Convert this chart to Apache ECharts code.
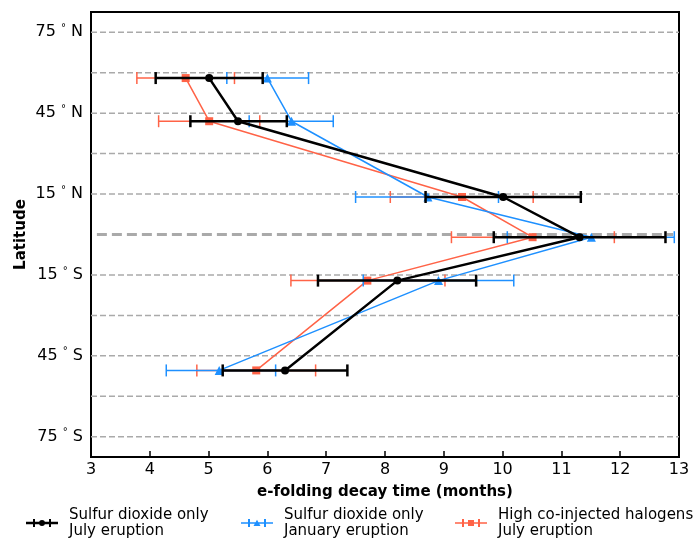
<!DOCTYPE html>
<html>
<head>
<meta charset="utf-8">
<script src="https://cdn.jsdelivr.net/npm/echarts@6/dist/echarts.min.js"></script>
<style>
  html, body { margin: 0; padding: 0; background: #fff; }
  #chart { width: 698px; height: 540px; }
</style>
</head>
<body>
<div id="chart"></div>
<script>
// latitude of each row of points
var latitudes = [58, 42, 13.9, -1, -17.1, -50.4];

// Sulfur dioxide only, July eruption
var so2July = [5.01, 5.50, 10.01, 11.31, 8.21, 6.30];
var so2JulyLow = [4.10, 4.69, 8.69, 9.85, 6.86, 5.24];
var so2JulyHigh = [5.92, 6.33, 11.33, 12.77, 9.55, 7.36];

// Sulfur dioxide only, January eruption
var so2Jan = [6.00, 6.41, 8.73, 11.51, 8.91, 5.18];
var so2JanLow = [5.31, 5.69, 7.50, 10.08, 7.63, 4.28];
var so2JanHigh = [6.70, 7.12, 9.93, 12.92, 10.19, 6.14];

// High co-injected halogens, July eruption
var halJuly = [4.61, 5.01, 9.31, 10.51, 7.70, 5.81];
var halJulyLow = [3.78, 4.15, 8.09, 9.13, 6.40, 4.80];
var halJulyHigh = [5.44, 5.87, 10.52, 11.90, 9.02, 6.82];

var latTicks = [75, 45, 15, -15, -45, -75];
var gridLats = [75, 60, 45, 30, 15, -15, -30, -45, -60, -75];

var names = [
    'Sulfur dioxide only\nJuly eruption',
    'Sulfur dioxide only\nJanuary eruption',
    'High co-injected halogens\nJuly eruption'
];

function pairs(xs) {
    return xs.map(function (x, i) { return [x, latitudes[i]]; });
}
function errData(lo, hi) {
    return lo.map(function (l, i) { return [l, hi[i], latitudes[i]]; });
}
function errRender(color, width) {
    return function (params, api) {
        var a = api.coord([api.value(0), api.value(2)]);
        var b = api.coord([api.value(1), api.value(2)]);
        var h = 6;
        var st = { stroke: color, lineWidth: width };
        return {
            type: 'group',
            children: [
                { type: 'line', shape: { x1: a[0], y1: a[1], x2: b[0], y2: b[1] }, style: st },
                { type: 'line', shape: { x1: a[0], y1: a[1] - h, x2: a[0], y2: a[1] + h }, style: st },
                { type: 'line', shape: { x1: b[0], y1: b[1] - h, x2: b[0], y2: b[1] + h }, style: st }
            ]
        };
    };
}

// legend glyphs: bar + caps + marker, box 32 x 8
function barIcon(t) {
    var y0 = 4 - t / 2, y1 = 4 + t / 2;
    return 'M0,' + y0 + ' L32,' + y0 + ' L32,' + y1 + ' L0,' + y1 + ' Z ' +
        'M7,0 L9,0 L9,8 L7,8 Z M23,0 L25,0 L25,8 L23,8 Z ';
}
var iconCircle = 'path://' + barIcon(2.4) + 'M16,1 A3,3 0 1,1 16,7 A3,3 0 1,1 16,1 Z';
var iconTri = 'path://' + barIcon(1.6) + 'M16,0.8 L19.5,7 L12.5,7 Z';
var iconSq = 'path://' + barIcon(1.6) + 'M13,1 L19,1 L19,7 L13,7 Z';

function legendAt(left, name, icon) {
    return {
        left: left, top: 507,
        padding: 0,
        data: [{ name: name, icon: icon }],
        itemWidth: 32, itemHeight: 8,
        textStyle: { fontFamily: 'DejaVu Sans', fontSize: 15, color: '#000', lineHeight: 16, padding: [0, 0, 0, 6] },
        selectedMode: false
    };
}

var chart = echarts.init(document.getElementById('chart'));

chart.setOption({
    animation: false,
    textStyle: { fontFamily: 'DejaVu Sans' },
    grid: {
        left: 91, right: 19, top: 12, bottom: 83,
        show: true, borderColor: '#000', borderWidth: 2
    },
    legend: [
        legendAt(26, names[0], iconCircle),
        legendAt(241, names[1], iconTri),
        legendAt(455, names[2], iconSq)
    ],
    xAxis: {
        type: 'value', min: 3, max: 13, interval: 1,
        name: 'e-folding decay time (months)',
        nameLocation: 'middle', nameGap: 28,
        nameTextStyle: { fontSize: 15, fontWeight: 'bold', color: '#000' },
        axisLine: { onZero: false, lineStyle: { color: '#000', width: 2 } },
        axisTick: { inside: true, length: 6, lineStyle: { color: '#000', width: 1.5 } },
        axisLabel: { fontSize: 16, color: '#000', margin: 5 },
        splitLine: { show: false }
    },
    yAxis: {
        type: 'value', min: -82.5, max: 82.5,
        name: 'Latitude',
        nameLocation: 'middle', nameGap: 62,
        nameMoveOverlap: false,
        nameTextStyle: { fontSize: 15, fontWeight: 'bold', color: '#000' },
        axisLine: { onZero: false, lineStyle: { color: '#000', width: 2 } },
        axisTick: { show: false },
        splitLine: { show: false },
        axisLabel: {
            customValues: latTicks,
            margin: 8,
            formatter: function (v) {
                var hemi = v > 0 ? 'N' : 'S';
                return '{n|' + Math.abs(v) + ' }{d|°}{n| ' + hemi + '}';
            },
            rich: {
                n: { fontSize: 16, color: '#000' },
                d: { fontSize: 10, color: '#000', padding: [0, 0, 8, 0] }
            }
        }
    },
    series: [
        {
            name: 'gridlines', type: 'custom', z: 1, silent: true,
            data: gridLats.map(function (l) { return [l]; }),
            encode: { y: 0 },
            renderItem: function (params, api) {
                var cs = params.coordSys;
                var y = api.coord([3, api.value(0)])[1];
                return {
                    type: 'line',
                    shape: { x1: cs.x, y1: y, x2: cs.x + cs.width, y2: y },
                    style: { stroke: '#aaaaaa', lineWidth: 1.5, lineDash: [6, 3] }
                };
            }
        },
        {
            name: 'equator', type: 'custom', z: 1, silent: true,
            data: [[3.1, 12.9, 0]],
            encode: { x: [0, 1], y: 2 },
            renderItem: function (params, api) {
                var a = api.coord([api.value(0), api.value(2)]);
                var b = api.coord([api.value(1), api.value(2)]);
                return {
                    type: 'line',
                    shape: { x1: a[0], y1: a[1], x2: b[0], y2: b[1] },
                    style: { stroke: '#aaaaaa', lineWidth: 3, lineDash: [10, 5] }
                };
            }
        },
        {
            name: 'err3', type: 'custom', z: 3,
            data: errData(halJulyLow, halJulyHigh),
            encode: { x: [0, 1], y: 2 },
            renderItem: errRender('#ff6347', 1.5)
        },
        {
            name: names[2], type: 'line', z: 3,
            data: pairs(halJuly),
            color: '#ff6347',
            symbol: 'rect', symbolSize: 8,
            lineStyle: { width: 1.5, color: '#ff6347' },
            itemStyle: { color: '#ff6347' }
        },
        {
            name: 'err2', type: 'custom', z: 4,
            data: errData(so2JanLow, so2JanHigh),
            encode: { x: [0, 1], y: 2 },
            renderItem: errRender('#1e90ff', 1.5)
        },
        {
            name: names[1], type: 'line', z: 4,
            data: pairs(so2Jan),
            color: '#1e90ff',
            symbol: 'triangle', symbolSize: 9,
            lineStyle: { width: 1.5, color: '#1e90ff' },
            itemStyle: { color: '#1e90ff' }
        },
        {
            name: 'err1', type: 'custom', z: 5,
            data: errData(so2JulyLow, so2JulyHigh),
            encode: { x: [0, 1], y: 2 },
            renderItem: errRender('#000', 2.5)
        },
        {
            name: names[0], type: 'line', z: 5,
            data: pairs(so2July),
            color: '#000',
            symbol: 'circle', symbolSize: 8,
            lineStyle: { width: 2.5, color: '#000' },
            itemStyle: { color: '#000' }
        }
    ]
});
</script>
</body>
</html>
